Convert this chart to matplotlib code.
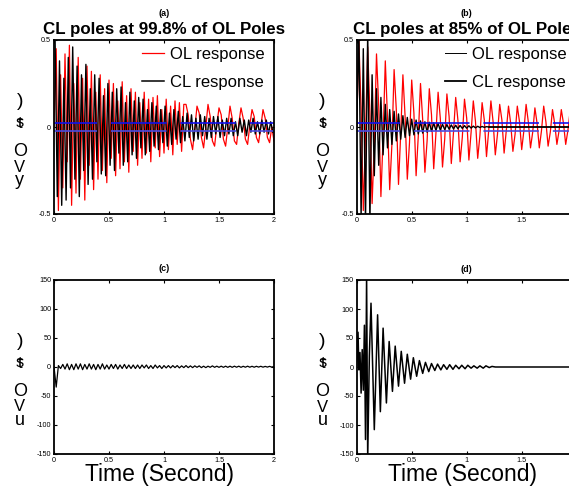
import numpy as np
import matplotlib
matplotlib.use("Agg")
import matplotlib.pyplot as plt
from matplotlib.lines import Line2D

FAM = ['Liberation Sans', 'DejaVu Sans']
plt.rcParams['font.family'] = FAM
plt.rcParams['lines.scale_dashes'] = False

# ---------------- data ----------------
# (a) OL response (red), samples t = 0..2 step 0.02
a_ol = [0.00, 0.45, -0.48, 0.30, -0.35, 0.42, -0.20, 0.47, -0.45, 0.25,
        -0.38, 0.40, -0.30, 0.28, -0.42, 0.35, -0.22, 0.32, -0.36, 0.20,
        -0.30, 0.30, -0.25, 0.22, -0.32, 0.27, -0.18, 0.25, -0.28, 0.15,
        -0.24, 0.26, -0.20, 0.18, -0.26, 0.22, -0.14, 0.20, -0.22, 0.14,
        -0.18, 0.20, -0.15, 0.16, -0.20, 0.17, -0.12, 0.18, -0.17, 0.10,
        -0.15, 0.16, -0.13, 0.12, -0.16, 0.15, -0.10, 0.14, -0.14, 0.13,
        0.13, 0.07, -0.07, -0.13, -0.01, 0.12, 0.08, -0.06, -0.12, 0.00,
        0.13, 0.06, -0.08, -0.11, 0.01, 0.11, 0.07, -0.07, -0.11, 0.00,
        0.12, 0.05, -0.08, -0.10, 0.02, 0.11, 0.05, -0.07, -0.10, 0.01,
        0.10, 0.06, -0.06, -0.09, 0.00, 0.10, 0.05, -0.06, -0.09, 0.00,
        -0.08]
# (a) CL response (black), samples t = 0.01..1.99 step 0.02
a_cl = [0.50, -0.40, 0.38, -0.45, 0.28, -0.42, 0.40, -0.35, 0.46, -0.30,
        0.35, -0.40, 0.30, -0.25, 0.36, -0.33, 0.22, -0.30, 0.30, -0.20,
        0.28, -0.27, 0.18, -0.28, 0.25, -0.22, 0.20, -0.25, 0.22, -0.15,
        0.23, -0.22, 0.14, -0.20, 0.20, -0.16, 0.15, -0.18, 0.17, -0.12,
        0.16, -0.16, 0.10, -0.14, 0.14, -0.11, 0.12, -0.13, 0.10, -0.09,
        0.12, -0.11, 0.08, -0.10, 0.10, -0.07, 0.09, -0.09, 0.06, -0.08,
        0.08, -0.06, 0.07, -0.08, 0.05, -0.07, 0.07, -0.05, 0.06, -0.07,
        0.05, -0.06, 0.06, -0.04, 0.06, -0.06, 0.04, -0.05, 0.05, -0.04,
        0.05, -0.05, 0.03, -0.05, 0.05, -0.03, 0.04, -0.05, 0.04, -0.03,
        0.05, -0.04, 0.03, -0.04, 0.04, -0.03, 0.04, -0.04, 0.03, -0.03]
# (b) OL response (red), t = 0..2 step 0.02
b_ol = [0.00, 0.50, 0.10, -0.48, -0.05, 0.46, 0.08, -0.44, -0.10, 0.42,
        0.12, -0.40, -0.06, 0.38, 0.05, -0.36, -0.10, 0.33, 0.10, -0.33,
        -0.04, 0.30, 0.06, -0.30, -0.09, 0.27, 0.08, -0.28, -0.05, 0.25,
        0.04, -0.26, -0.08, 0.22, 0.07, -0.24, -0.04, 0.20, 0.05, -0.23,
        -0.07, 0.19, 0.06, -0.21, -0.03, 0.17, 0.04, -0.20, -0.06, 0.16,
        0.05, -0.19, -0.03, 0.15, 0.03, -0.18, -0.05, 0.14, 0.04, -0.17,
        -0.02, 0.15, 0.03, -0.16, -0.04, 0.13, 0.04, -0.15, -0.02, 0.12,
        0.02, -0.14, -0.04, 0.12, 0.03, -0.13, -0.02, 0.13, 0.03, -0.12,
        -0.03, 0.11, 0.02, -0.12, -0.02, 0.12, 0.03, -0.11, -0.03, 0.10,
        0.02, -0.10, -0.02, 0.10, 0.02, -0.10, -0.02, 0.09, 0.02, -0.09,
        -0.01]
# (b) CL response (black), t = 0..1.2 step 0.02, then flat to 2
b_cl = [0.00, 0.55, -0.52, 0.45, -0.55, 0.55, -0.55, 0.30, -0.28, 0.22,
        -0.22, 0.17, -0.16, 0.13, -0.12, 0.10, -0.10, 0.09, -0.08, 0.075,
        -0.07, 0.065, -0.06, 0.055, -0.05, 0.045, -0.045, 0.04, -0.04, 0.035,
        -0.035, 0.03, -0.03, 0.027, -0.025, 0.023, -0.02, 0.02, -0.018, 0.016,
        -0.015, 0.014, -0.013, 0.012, -0.011, 0.01, -0.01, 0.009, -0.008, 0.008,
        -0.007, 0.007, -0.006, 0.005, -0.005, 0.004, -0.003, 0.003, -0.002, 0.002,
        0.0, 0.0]
# (c) control u, t = 0..2 step 0.02
c_u = [0, -35, 2, -3, 4, -4, 5, -5, 4, -5,
       5, -4, 5, -5, 4, -4, 5, -4, 4, -5,
       4, -4, 5, -4, 3, -4, 4, -3, 4, -4,
       3, -3, 4, -3, 3, -3, 3, -3, 3, -3,
       3, -2, 3, -3, 2, -3, 3, -2, 2, -3,
       2,
       -2, 2, -2, 2, -1.5, 2, -2, 1.5, -1.5, 2,
       -1.5, 1.5, -1.5, 1.5, -1, 1.5, -1.5, 1, -1.5, 1,
       -1, 1.5, -1, 1, -1, 1, -1, 1, -1, 1,
       -1, 1, -0.8, 1, -1, 0.8, -0.8, 1, -0.8, 0.8,
       -0.8, 0.8, -0.6, 0.8, -0.7, 0.6, -0.6, 0.7, -0.6, 0.5]
# (d) control u, irregular times
d_t = [0.0, 0.012, 0.02, 0.03, 0.04, 0.05, 0.06, 0.07, 0.08, 0.09,
       0.10, 0.115, 0.13, 0.16, 0.19, 0.215, 0.24, 0.27, 0.295, 0.325,
       0.35, 0.38, 0.405, 0.435, 0.46, 0.49, 0.515, 0.545, 0.57, 0.60,
       0.625, 0.655, 0.68, 0.71, 0.735, 0.765, 0.79, 0.82, 0.845, 0.875,
       0.90, 0.93, 0.955, 0.985, 1.01, 1.04, 1.065, 1.095, 1.12, 1.15,
       1.175, 1.205, 1.23, 1.26, 1.40, 2.0]
d_u = [0, 60, -5, 25, -45, 30, -40, 72, -125, 160,
       -160, 20, 110, -108, 90, -77, 67, -62, 44, -42,
       36, -33, 27, -28, 22, -21, 16, -16, 11, -11,
       8, -8, 6, -6, 5, -5, 4, -4, 4, -4,
       3, -3, 3, -3, 3, -2, 2, -2, 2, -2,
       2, -1, 1, 0, 0, 0]
band = 0.025

titles = ['CL poles at 99.8% of OL Poles', 'CL poles at 85% of OL Poles']
tags = ['(a)', '(b)', '(c)', '(d)']
legend_labels = ['OL response', 'CL response']
xlabel = 'Time (Second)'
xticks = [0, 0.5, 1, 1.5, 2]
xticklabels = ['0', '0.5', '1', '1.5', '2']
yticks_y = [-0.5, 0, 0.5]
yticklabels_y = ['-0.5', '0', '0.5']
yticks_u = [-150, -100, -50, 0, 50, 100, 150]
yticklabels_u = ['-150', '-100', '-50', '0', '50', '100', '150']

t_a_ol = np.linspace(0, 2, len(a_ol))
t_a_cl = np.linspace(0.01, 1.99, len(a_cl))
t_b_ol = np.linspace(0, 2, len(b_ol))
t_b_cl = np.append(np.linspace(0, 1.2, len(b_cl) - 1), 2.0)
t_c = np.linspace(0, 2, len(c_u))

W, H = 569, 492
fig = plt.figure(figsize=(W / 100, H / 100), dpi=100)

def box(l, t, r, b):
    return [l / W, 1 - b / H, (r - l) / W, (b - t) / H]

axa = fig.add_axes(box(54, 40, 274, 214))
axb = fig.add_axes(box(356.7, 40, 576.7, 214))
axc = fig.add_axes(box(54, 279.5, 274, 454))
axd = fig.add_axes(box(356.7, 280, 576.7, 454))

def style(ax, yt, ytl, ylim):
    ax.set_xlim(0, 2)
    ax.set_ylim(*ylim)
    ax.set_xticks(xticks)
    ax.set_xticklabels(xticklabels)
    ax.set_yticks(yt)
    ax.set_yticklabels(ytl)
    ax.tick_params(direction='in', length=2.5, width=0.8, labelsize=5.2,
                   top=True, right=True, pad=2)
    for s in ax.spines.values():
        s.set_linewidth(1.3)

def ylabel(ax, last):
    chars = [(')', 0.645, 14), ('s', 0.525, 12), ('t', 0.52, 12),
             ('O', 0.36, 13), ('V', 0.27, 12), (last, 0.19, 13)]
    for ch, yy, fs in chars:
        ax.text(-0.155, yy, ch, transform=ax.transAxes, ha='center', va='center',
                fontsize=fs)

dash = (9, (40, 10))
for ax, ol, tol, cl, tcl, ttl, tag in [
        (axa, a_ol, t_a_ol, a_cl, t_a_cl, titles[0], tags[0]),
        (axb, b_ol, t_b_ol, b_cl, t_b_cl, titles[1], tags[1])]:
    ax.plot(tol, ol, color='#ff0000', lw=0.9)
    ax.plot(tcl, cl, color='black', lw=1.0)
    ax.plot([0, 2], [band, band], color='#1010ee', lw=1.2, linestyle=dash)
    ax.plot([0, 2], [-band, -band], color='#4a4ae0', lw=1.2, linestyle=dash)
    style(ax, yticks_y, yticklabels_y, (-0.5, 0.5))
    ax.text(0.5, 1.06, ttl, transform=ax.transAxes, ha='center', va='center',
            fontsize=12.2, fontweight='bold')
    ax.text(0.5, 1.15, tag, transform=ax.transAxes, ha='center', va='center',
            fontsize=6.5, fontweight='bold')
    ylabel(ax, 'y')

axb.plot([1.2, 2], [0, 0], color='black', lw=1.1)

# legends
h_a = [Line2D([], [], color='#ff0000', lw=0.9), Line2D([], [], color='black', lw=1.1)]
h_b = [Line2D([], [], color='black', lw=0.7), Line2D([], [], color='black', lw=1.3)]
for ax, h in [(axa, h_a), (axb, h_b)]:
    ax.legend(h, legend_labels, loc='upper left',
              bbox_to_anchor=(0.40, 0.962), frameon=False, fontsize=12,
              handlelength=1.3, handletextpad=0.35, labelspacing=0.82,
              borderaxespad=0.0, borderpad=0.0)

axc.plot(t_c, c_u, color='black', lw=0.9)
axd.plot(d_t, d_u, color='black', lw=1.1)
for ax, tag in [(axc, tags[2]), (axd, tags[3])]:
    style(ax, yticks_u, yticklabels_u, (-150, 150))
    ax.text(0.5, 1.063, tag, transform=ax.transAxes, ha='center', va='center',
            fontsize=6.5, fontweight='bold')
    ax.text(0.48, -0.115, xlabel, transform=ax.transAxes, ha='center',
            va='center', fontsize=16.5)
    ylabel(ax, 'u')

fig.savefig('out.png', dpi=100)
